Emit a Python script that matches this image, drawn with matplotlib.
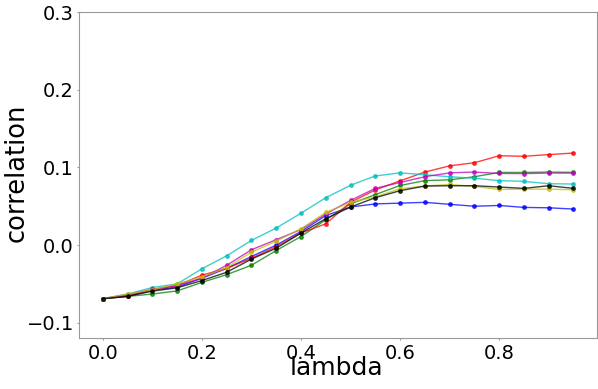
import matplotlib
matplotlib.use("Agg")
import matplotlib.pyplot as plt
import numpy as np

lam = [0.0, 0.05, 0.10, 0.15, 0.20, 0.25, 0.30, 0.35, 0.40, 0.45,
       0.50, 0.55, 0.60, 0.65, 0.70, 0.75, 0.80, 0.85, 0.90, 0.95]

blue = [-0.069, -0.066, -0.058, -0.054, -0.0426, -0.030, -0.0147, 0.000, 0.0175, 0.038,
        0.049, 0.053, 0.054, 0.055, 0.0525, 0.050, 0.051, 0.0485, 0.048, 0.0464]
green = [-0.069, -0.066, -0.063, -0.059, -0.048, -0.038, -0.026, -0.007, 0.011, 0.0325,
         0.053, 0.065, 0.0767, 0.083, 0.084, 0.088, 0.0935, 0.0935, 0.094, 0.0935]
red = [-0.069, -0.065, -0.0576, -0.052, -0.0387, -0.030, -0.017, -0.002, 0.0155, 0.0274,
       0.055, 0.071, 0.0827, 0.094, 0.102, 0.106, 0.115, 0.1143, 0.1165, 0.1185]
cyan = [-0.069, -0.063, -0.0546, -0.050, -0.0305, -0.0138, 0.006, 0.022, 0.041, 0.061,
        0.077, 0.089, 0.093, 0.0905, 0.088, 0.086, 0.083, 0.082, 0.079, 0.0786]
magenta = [-0.069, -0.064, -0.057, -0.052, -0.0426, -0.026, -0.006, 0.007, 0.020, 0.040,
           0.0575, 0.073, 0.0806, 0.088, 0.093, 0.094, 0.0922, 0.092, 0.0927, 0.0927]
yellow = [-0.069, -0.063, -0.0576, -0.050, -0.041, -0.029, -0.009, 0.005, 0.021, 0.042,
          0.055, 0.062, 0.0725, 0.076, 0.078, 0.0755, 0.0716, 0.072, 0.072, 0.0712]
black = [-0.069, -0.066, -0.0593, -0.055, -0.0456, -0.035, -0.018, -0.004, 0.0155, 0.034,
         0.049, 0.061, 0.070, 0.076, 0.0764, 0.0764, 0.0747, 0.073, 0.0764, 0.073]

series = [("b", blue), ("g", green), ("r", red), ("c", cyan),
          ("m", magenta), ("y", yellow), ("k", black)]

fig = plt.figure(figsize=(5.98, 3.89), dpi=100)
ax = fig.add_axes([0.1326, 0.1303, 0.8657, 0.8388])

for col, vals in series:
    ax.plot(lam, vals, color=col, marker="o", markersize=2.5, linewidth=1.0, alpha=0.75)

ax.set_ylim(-0.12, 0.3)
ax.set_yticks([-0.1, 0.0, 0.1, 0.2, 0.3])
ax.set_xticks([0.0, 0.2, 0.4, 0.6, 0.8])
ax.tick_params(labelsize=14, color="#999999", length=1.5, pad=2.4)
for sp in ax.spines.values():
    sp.set_color("#999999")

ax.set_xlabel("lambda", fontsize=18)
ax.xaxis.label.set_verticalalignment("baseline")
ax.xaxis.set_label_coords(0.497, -0.1125)

ax.set_ylabel("correlation", fontsize=18.5)
ax.yaxis.label.set_verticalalignment("baseline")
ax.yaxis.set_label_coords(-0.107, 0.508)

fig.savefig("out.png", dpi=100)
